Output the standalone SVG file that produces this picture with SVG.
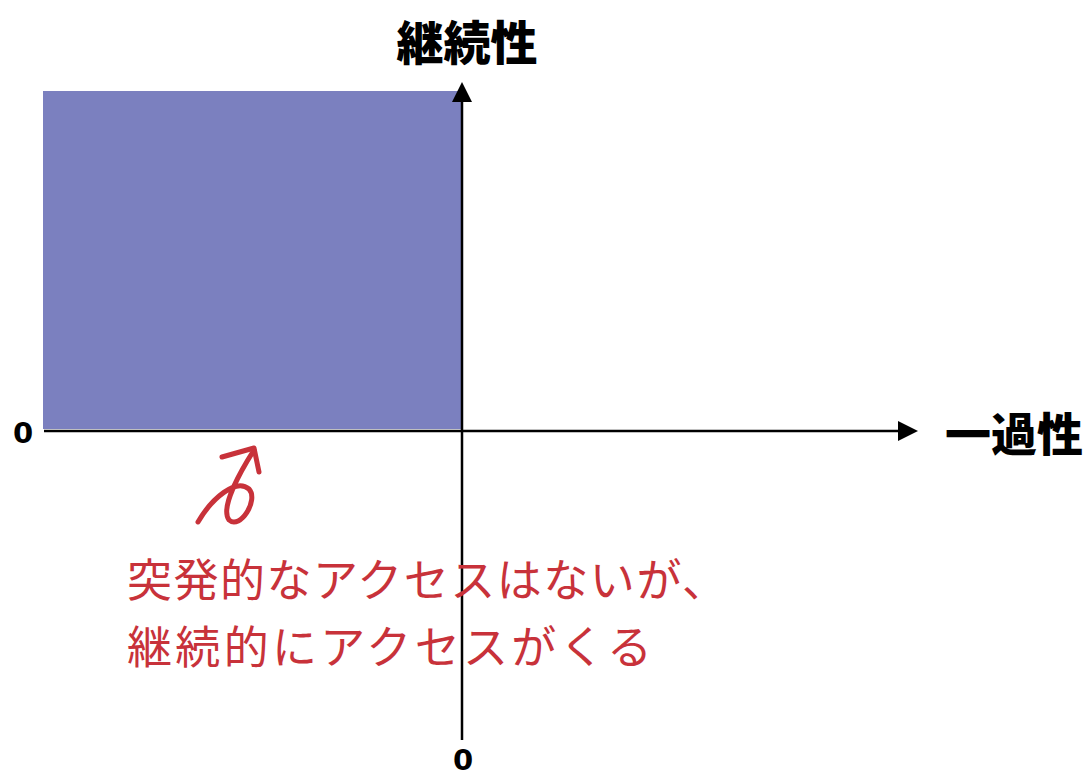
<svg xmlns="http://www.w3.org/2000/svg" width="1088" height="776" viewBox="0 0 1088 776">
<defs>
<style>
.lbl{font-family:"Noto Sans CJK JP","Noto Sans",sans-serif;font-weight:900;fill:#000;}
.zero{font-family:"DejaVu Sans","Noto Sans",sans-serif;font-size:29px;font-weight:bold;fill:#000;}
.note{font-family:"Noto Sans CJK JP",sans-serif;font-size:45px;fill:#C8323A;}
.ax{stroke:#000;stroke-width:2.5;fill:none;}
.hand{stroke:#C8323A;stroke-width:5;fill:none;stroke-linecap:round;stroke-linejoin:round;}
</style>
<marker id="ah" viewBox="0 0 10 10" refX="2" refY="5" markerWidth="20" markerHeight="20" markerUnits="userSpaceOnUse" orient="auto">
<path d="M0,0 L10,5 L0,10 z" fill="#000"/>
</marker>
</defs>
<rect width="1088" height="776" fill="#fff"/>
<g id="quadrant"><rect x="43" y="91" width="418" height="338" fill="#7B80BF"/></g>
<g id="connectors">
<path class="ax" d="M462,740 V98" marker-end="url(#ah)"/>
<path class="ax" d="M44,431 H902" marker-end="url(#ah)"/>
</g>
<g id="axis-y-label"><text class="lbl" x="467" y="60" font-size="47" text-anchor="middle">継続性</text></g>
<g id="axis-x-label"><text class="lbl" x="1014" y="451" font-size="46" text-anchor="middle">一過性</text></g>
<g id="zero-x"><text class="zero" x="23" y="443" text-anchor="middle">0</text></g>
<g id="zero-y"><text class="zero" x="463" y="770" text-anchor="middle">0</text></g>
<g id="note">
<path class="hand" d="M198,522 C212,498 236,478 249,489 C259,500 240,530 229,520 C220,508 240,472 254,450"/>
<path class="hand" d="M222,457 L254,448 L259,472"/>
<text class="note" x="127" y="597" textLength="600" lengthAdjust="spacing">突発的なアクセスはないが、</text>
<text class="note" x="127" y="664" textLength="525" lengthAdjust="spacing">継続的にアクセスがくる</text>
</g>
</svg>
